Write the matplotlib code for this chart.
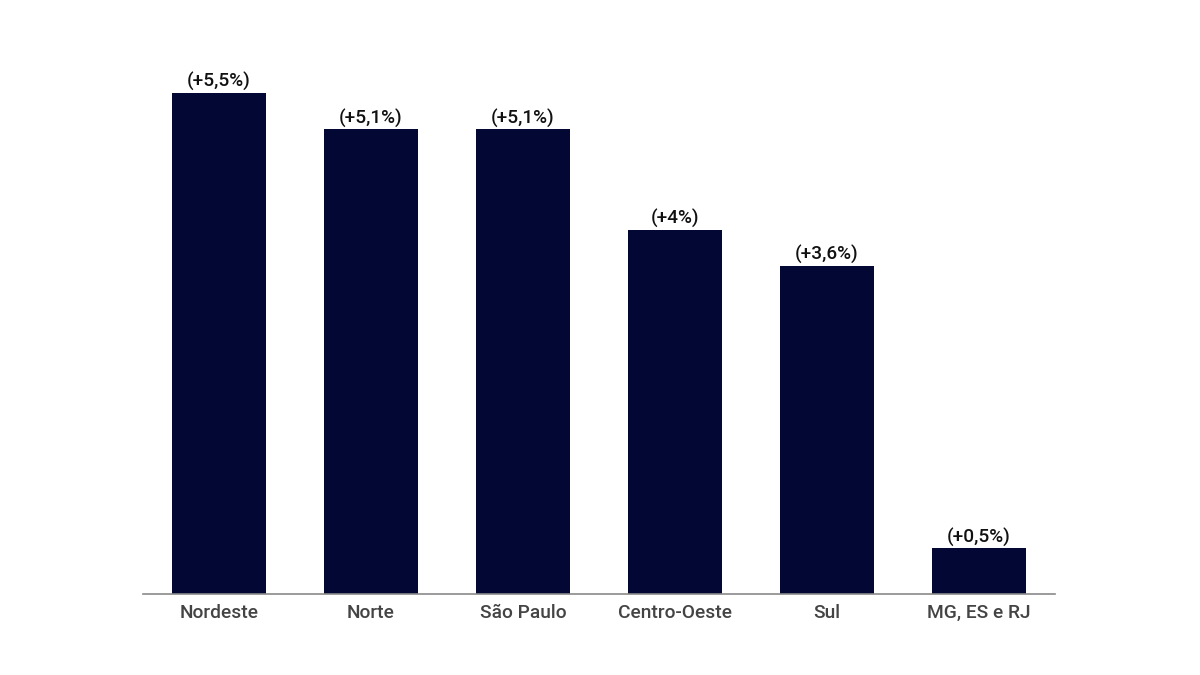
import matplotlib
matplotlib.use("Agg")
import matplotlib.pyplot as plt

# dados
regioes = ["Nordeste", "Norte", "São Paulo", "Centro-Oeste", "Sul", "MG, ES e RJ"]
valores = [5.5, 5.1, 5.1, 4.0, 3.6, 0.5]
rotulos = ["(+5,5%)", "(+5,1%)", "(+5,1%)", "(+4%)", "(+3,6%)", "(+0,5%)"]

plt.rcParams['font.family'] = ['Roboto', 'DejaVu Sans']

fig = plt.figure(figsize=(12, 6.75), dpi=100)
ax = fig.add_axes([143/1200, 1 - 594/675, (1055-143)/1200, (594-93)/675])

x = list(range(len(regioes)))
bars = ax.bar(x, valores, width=0.62, color="#020733", zorder=2)

for xi, v, r in zip(x, valores, rotulos):
    ax.text(xi, v + 0.02, r, ha="center", va="bottom", fontsize=13.7,
            fontweight="medium", color="#111111", clip_on=False)

ax.set_xlim(-0.5, 5.5)
ax.set_ylim(0, 5.5)
ax.set_xticks(x)
ax.set_xticklabels(regioes, fontsize=13.8, fontweight="medium", color="#444444")
ax.tick_params(axis="x", length=0, pad=7)
ax.set_yticks([])
for s in ["top", "right", "left"]:
    ax.spines[s].set_visible(False)
ax.spines["bottom"].set_color("#8a8a8a")
ax.spines["bottom"].set_linewidth(1.2)

fig.savefig("out.png", dpi=100)
